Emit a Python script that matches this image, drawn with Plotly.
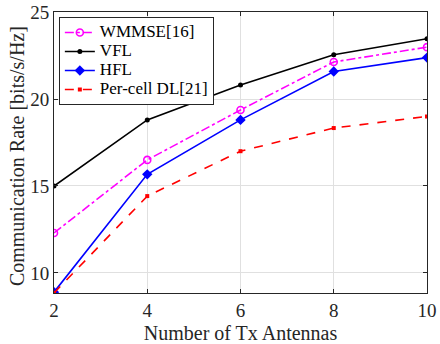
import plotly.graph_objects as go

antennas = [2, 4, 6, 8, 10]
wmmse = [12.3, 16.5, 19.37, 22.13, 22.98]
vfl = [15.0, 18.8, 20.8, 22.54, 23.46]
hfl = [8.9, 15.67, 18.8, 21.58, 22.38]
percell = [8.85, 14.42, 17.0, 18.33, 19.0]
names = ["WMMSE[16]", "VFL", "HFL", "Per-cell DL[21]"]

x_ticks = [2, 4, 6, 8, 10]
y_ticks = [10, 15, 20, 25]


def lbl(s):
    return '<span style="font-size:17px">' + s + '</span>'


fig = go.Figure()
fig.add_trace(go.Scatter(x=antennas, y=wmmse, name=lbl(names[0]), mode="lines+markers",
                         line=dict(color="#FF00FF", width=1.6, dash="dashdot"),
                         marker=dict(symbol="circle-open", size=7, color="#FF00FF", line=dict(width=1.6))))
fig.add_trace(go.Scatter(x=antennas, y=vfl, name=lbl(names[1]), mode="lines+markers",
                         line=dict(color="black", width=1.6),
                         marker=dict(symbol="circle", size=5, color="black")))
fig.add_trace(go.Scatter(x=antennas, y=hfl, name=lbl(names[2]), mode="lines+markers",
                         line=dict(color="#0000FF", width=1.6),
                         marker=dict(symbol="diamond", size=8, color="#0000FF")))
fig.add_trace(go.Scatter(x=antennas, y=percell, name=lbl(names[3]), mode="lines+markers",
                         line=dict(color="#FF0000", width=1.6, dash="dash"),
                         marker=dict(symbol="square", size=4, color="#FF0000")))

axis_common = dict(showline=True, linecolor="#262626", linewidth=1, mirror="ticks",
                   ticks="inside", ticklen=4, tickcolor="#262626", automargin=False,
                   showgrid=True, gridcolor="#E0E0E0", gridwidth=1, zeroline=False,
                   tickfont=dict(family="Liberation Serif", size=19, color="#262626"))

fig.update_layout(
    width=440, height=344,
    margin=dict(l=54, r=13, t=12, b=51),
    paper_bgcolor="white", plot_bgcolor="white",
    font=dict(family="Liberation Serif", size=17, color="#262626"),
    showlegend=True,
    legend=dict(x=0.013, y=0.982, xanchor="left", yanchor="top",
                bgcolor="white", bordercolor="#262626", borderwidth=1,
                font=dict(family="Liberation Serif", size=12, color="black"),
                tracegroupgap=0, itemwidth=30),
    annotations=[dict(text="Communication Rate [bits/s/Hz]", textangle=-90,
                      xref="paper", yref="paper", x=-0.099, y=0.4875,
                      xanchor="center", yanchor="middle", showarrow=False,
                      font=dict(family="Liberation Serif", size=20, color="#262626"))],
)
fig.update_xaxes(range=[2, 10], tickvals=x_ticks, ticktext=[str(v) for v in x_ticks],
                 title=dict(text="Number of Tx Antennas",
                            font=dict(family="Liberation Serif", size=20, color="#262626")),
                 **axis_common)
fig.update_yaxes(range=[8.85, 25], tickvals=y_ticks, ticktext=[str(v) for v in y_ticks],
                 **axis_common)

fig.write_html("out.html", config={"displayModeBar": False},
               post_script="document.body.style.margin='0px';")
